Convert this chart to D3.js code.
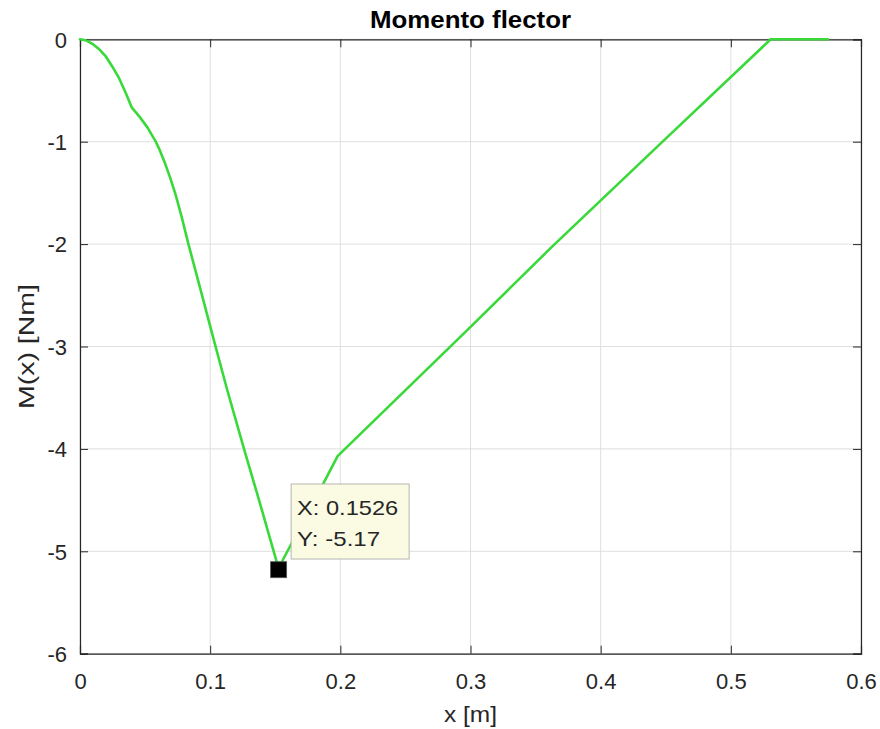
<!DOCTYPE html>
<html>
<head>
<meta charset="utf-8">
<script src="https://cdn.jsdelivr.net/npm/d3@7/dist/d3.min.js"></script>
<style>
  html, body { margin: 0; padding: 0; background: #fff; }
  svg { display: block; font-family: "Liberation Sans", Arial, Helvetica, sans-serif; }
</style>
</head>
<body>
<svg id="chart" width="880" height="729"></svg>
<script>
// ---- data ----
const xValues = [0, 0.005, 0.0102, 0.015, 0.020, 0.025, 0.030, 0.035, 0.0397, 0.046, 0.052, 0.0582, 0.0605, 0.065, 0.0695, 0.0735, 0.078, 0.0833, 0.0948, 0.101, 0.113, 0.126, 0.138, 0.1526, 0.156, 0.1869, 0.1979, 0.2975, 0.3615, 0.45, 0.5306, 0.5745];
const mValues = [0, -0.012, -0.05, -0.10, -0.17, -0.27, -0.38, -0.52, -0.664, -0.76, -0.865, -1.0, -1.06, -1.2, -1.36, -1.52, -1.73, -2.0, -2.55, -2.85, -3.42, -4.0, -4.52, -5.17, -5.08, -4.34, -4.07, -2.84, -2.04, -0.97, 0, 0];
const xTicks = [0, 0.1, 0.2, 0.3, 0.4, 0.5, 0.6];
const yTicks = [0, -1, -2, -3, -4, -5, -6];
const xTickLabels = ["0", "0.1", "0.2", "0.3", "0.4", "0.5", "0.6"];
const yTickLabels = ["0", "-1", "-2", "-3", "-4", "-5", "-6"];
const dataTip = { x: 0.1526, y: -5.17, labels: ["X: 0.1526", "Y: -5.17"] };
const titleText = "Momento flector";
const xLabelText = "x [m]";
const yLabelText = "M(x) [Nm]";

// ---- layout ----
const L = 80, R = 861, T = 39.3, B = 653.7;
const svg = d3.select("#chart");
const x = d3.scaleLinear().domain([0, 0.6]).range([L, R]);
const y = d3.scaleLinear().domain([-6, 0]).range([B, T]);
const axisColor = "#262626";

// grid
const grid = svg.append("g");
grid.selectAll(".gx").data(xTicks).join("line")
  .attr("x1", d => x(d)).attr("x2", d => x(d)).attr("y1", T).attr("y2", B)
  .attr("stroke", "#dfdfdf").attr("stroke-width", 1);
grid.selectAll(".gy").data(yTicks).join("line")
  .attr("x1", L).attr("x2", R).attr("y1", d => y(d)).attr("y2", d => y(d))
  .attr("stroke", "#dfdfdf").attr("stroke-width", 1);

// axes with inward ticks (box on)
const tickLen = 8;
const gB = svg.append("g").attr("transform", `translate(0,${B})`)
  .call(d3.axisBottom(x).tickValues(xTicks).tickSize(-tickLen).tickFormat((d, i) => xTickLabels[i]).tickPadding(20));
const gT = svg.append("g").attr("transform", `translate(0,${T})`)
  .call(d3.axisTop(x).tickValues(xTicks).tickSize(-tickLen).tickFormat(""));
const gL = svg.append("g").attr("transform", `translate(${L},0)`)
  .call(d3.axisLeft(y).tickValues(yTicks).tickSize(-tickLen).tickFormat((d, i) => yTickLabels[i]).tickPadding(13));
const gR = svg.append("g").attr("transform", `translate(${R},0)`)
  .call(d3.axisRight(y).tickValues(yTicks).tickSize(-tickLen).tickFormat(""));
[gB, gT, gL, gR].forEach(g => {
  g.select(".domain").attr("stroke", axisColor).attr("stroke-width", 1.2);
  g.selectAll(".tick line").attr("stroke", axisColor).attr("stroke-width", 1);
  g.selectAll(".tick text").attr("fill", axisColor).style("font-size", "22px")
    .style("font-family", '"Liberation Sans", Arial, sans-serif');
});
gB.selectAll(".tick text").attr("dy", "0.71em");
gL.selectAll(".tick text").attr("dy", "0.35em");

// line
const pts = xValues.map((v, i) => [v, mValues[i]]);
svg.append("path").datum(pts)
  .attr("fill", "none").attr("stroke", "#3ad93a").attr("stroke-width", 2.6)
  .attr("stroke-linejoin", "round").attr("stroke-linecap", "round")
  .attr("d", d3.line().x(d => x(d[0])).y(d => y(d[1])));

// data tip marker
const mx = x(dataTip.x), my = y(dataTip.y);
svg.append("rect").attr("x", mx - 8).attr("y", my - 7).attr("width", 16).attr("height", 16)
  .attr("fill", "#000").attr("stroke", "#555").attr("stroke-width", 0.8);

// data tip box
svg.append("rect").attr("x", mx + 12.5).attr("y", my - 84.7).attr("width", 118).attr("height", 75)
  .attr("fill", "#fbfbe4").attr("stroke", "#b5b5b0").attr("stroke-width", 1);
dataTip.labels.forEach((t, i) => {
  svg.append("text").attr("x", mx + 18.5).attr("y", my - 53.7 + i * 31)
    .attr("fill", "#262626").style("font-size", "21px")
    .attr("textLength", i === 0 ? 101 : 83).attr("lengthAdjust", "spacingAndGlyphs")
    .text(t);
});

// title and labels
svg.append("text").attr("x", (L + R) / 2).attr("y", 28).attr("text-anchor", "middle")
  .attr("fill", "#000").style("font-size", "23px").style("font-weight", "bold")
  .attr("textLength", 201).attr("lengthAdjust", "spacingAndGlyphs")
  .text(titleText);
svg.append("text").attr("x", (L + R) / 2).attr("y", 722).attr("text-anchor", "middle")
  .attr("fill", axisColor).style("font-size", "22px")
  .attr("textLength", 53).attr("lengthAdjust", "spacingAndGlyphs")
  .text(xLabelText);
svg.append("text").attr("transform", `translate(34,${(T + B) / 2}) rotate(-90)`)
  .attr("text-anchor", "middle").attr("fill", axisColor).style("font-size", "22px")
  .attr("textLength", 125).attr("lengthAdjust", "spacingAndGlyphs")
  .text(yLabelText);
</script>
</body>
</html>
